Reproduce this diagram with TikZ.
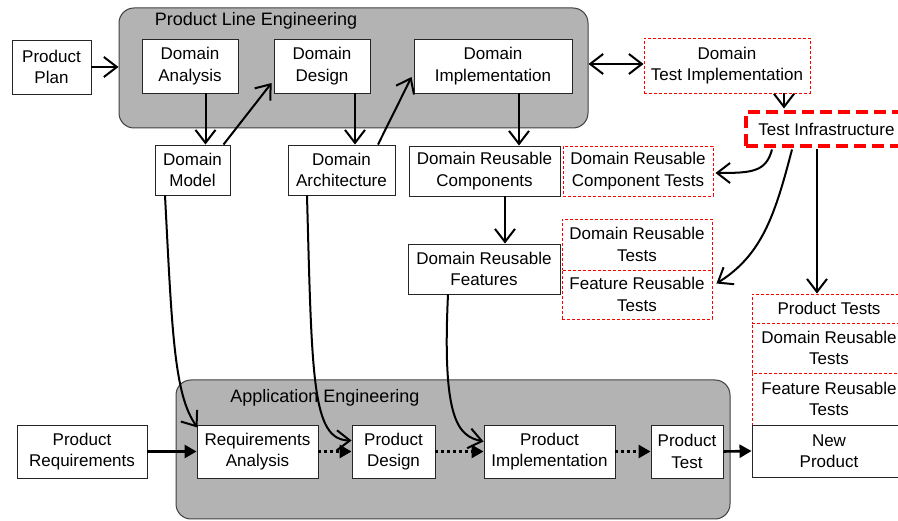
\documentclass[tikz,border=0pt]{standalone}
\usepackage{fontspec}
\setmainfont{Liberation Sans}
\usetikzlibrary{arrows.meta,calc}
\definecolor{pane}{HTML}{B3B3B3}
\begin{document}
\begin{tikzpicture}[x=1pt,y=-1pt,
  every node/.style={font=\fontsize{17}{21.5}\selectfont, inner sep=0pt, align=center},
  container/.style={draw=black!75, line width=1pt, fill=pane, rounded corners=15pt},
  box/.style={draw=black!85, line width=0.9pt, fill=white},
  rbox/.style={draw=red, line width=0.9pt, dash pattern=on 3pt off 2pt, fill=white},
  tbox/.style={draw=red, line width=3.5pt, dash pattern=on 12pt off 6pt, fill=white},
  title/.style={font=\fontsize{18}{21}\selectfont},
  vtip/.tip={Straight Barb[length=13pt,width=20pt,line width=2pt]},
  oarr/.style={line width=2pt, -vtip},
  darr/.style={line width=2pt, vtip-vtip},
  farr/.style={line width=2.6pt, -{Triangle[length=12pt,width=13pt]}},
  dotarr/.style={line width=2.6pt, dash pattern=on 3pt off 3pt, -{Triangle[length=12pt,width=13pt]}}
]
\useasboundingbox (0,0) rectangle (898,521);
\fill[white] (0,0) rectangle (898,521);

% containers
\node[container, minimum width=469pt, minimum height=120pt] (ple) at (353.5,68) {};
\node[container, minimum width=554pt, minimum height=139pt] (ae) at (453,449.5) {};
\node[title] (plet) at (256,21) {Product Line Engineering};
\node[title] (aet) at (325,398) {Application Engineering};

% top row
\node[box, minimum width=79pt, minimum height=54pt] (pp) at (51.5,67) {Product\\Plan};
\node[box, minimum width=96pt, minimum height=54pt] (da) at (190,66) {Domain\\Analysis};
\node[box, minimum width=96pt, minimum height=54pt] (dd) at (322,66) {Domain\\Design};
\node[box, minimum width=158pt, minimum height=54pt] (di) at (493,66) {Domain\\Implementation};
\node[rbox, minimum width=166pt, minimum height=55pt] (dti) at (727,65.5) {Domain\\Test Implementation};
\node[tbox, minimum width=161pt, minimum height=34pt] (ti) at (826.5,129) {Test Infrastructure};

% second row
\node[box, minimum width=75pt, minimum height=50pt] (dm) at (192.5,170) {Domain\\Model};
\node[box, minimum width=107pt, minimum height=50pt] (dar) at (341.5,170) {Domain\\Architecture};
\node[box, minimum width=151pt, minimum height=50pt] (drc) at (484.5,171) {Domain Reusable\\Components};
\node[rbox, minimum width=150pt, minimum height=50pt] (drct) at (638,171) {Domain Reusable\\Component Tests};

% third row
\node[box, minimum width=152pt, minimum height=50pt] (drf) at (484,269) {Domain Reusable\\Features};
\node[rbox, minimum width=150pt, minimum height=51pt] (drt) at (637,244.5) {Domain Reusable\\Tests};
\node[rbox, minimum width=150pt, minimum height=49pt] (frt) at (637,294.5) {Feature Reusable\\Tests};

% right column
\node[rbox, minimum width=154pt, minimum height=29pt] (pt) at (829,308.5) {Product Tests};
\node[rbox, minimum width=154pt, minimum height=50pt] (drt2) at (829,348) {Domain Reusable\\Tests};
\node[rbox, minimum width=154pt, minimum height=52pt] (frt2) at (829,399) {Feature Reusable\\Tests};
\node[box, minimum width=154pt, minimum height=52pt] (np) at (829,451) {New\\Product};

% bottom row
\node[box, minimum width=130pt, minimum height=53pt] (pr) at (82,451.5) {Product\\Requirements};
\node[box, minimum width=121pt, minimum height=53pt] (ra) at (257.5,451.5) {Requirements\\Analysis};
\node[box, minimum width=83pt, minimum height=53pt] (pd) at (393.5,451.5) {Product\\Design};
\node[box, minimum width=131pt, minimum height=53pt] (pi) at (549.5,451.5) {Product\\Implementation};
\node[box, minimum width=72pt, minimum height=53pt] (ptest) at (687,451.5) {Product\\Test};

% connectors, top
\draw[oarr] (pp.east) -- (pp.east -| ple.west);
\draw[oarr] ($(da.south)+(15.5,0)$) -- ($(dm.north)+(13,0)$);
\draw[oarr] ($(dm.north)+(31,0)$) -- ($(dd.west)+(-2,17)$);
\draw[oarr] ($(dd.south)+(33,0)$) -- ($(dar.north)+(13.5,0)$);
\draw[oarr] ($(dar.north)+(36.5,0)$) -- ($(di.west)+(-2,11)$);
\draw[oarr] ($(di.south)+(26,0)$) -- ($(drc.north)+(34.5,0)$);
\draw[oarr] ($(drc.south)+(20.5,0)$) -- ($(drf.north)+(21,0)$);
\coordinate (dtil) at ($(dti.west)+(0,-1.5)$);
\draw[darr] (dtil -| ple.east) -- (dtil);
\draw[oarr] ($(dti.south)+(57,0)$) -- ($(ti.north)+(-42.5,-1.75)$);
\draw[oarr] ($(ti.south)+(-54.5,1.75)$) .. controls (766,172) and (752,173) .. ($(drct.east)+(2,2)$);
\draw[oarr] ($(ti.south)+(-34.5,1.75)$) .. controls (775,215) and (762,255) .. ($(frt.east)+(4,-11)$);
\draw[oarr] ($(ti.south)+(-9.5,1.75)$) -- ($(pt.north)+(-12,0)$);

% connectors into application engineering
\draw[oarr] ($(dm.south)+(-27.5,0)$) .. controls (172,330) and (174,395) .. ($(ra.north west)+(1,3)$);
\draw[oarr] ($(dar.south)+(-34.5,0)$) .. controls (312,380) and (312,440) .. ($(pd.west)+(0,-11)$);
\draw[oarr] ($(drf.south)+(-36,0)$) .. controls (442,420) and (458,436) .. ($(pi.west)+(0,-10)$);

% bottom flow
\draw[farr] (pr.east) -- (ra.west);
\draw[dotarr] (ra.east) -- (pd.west);
\draw[dotarr] (pd.east) -- (pi.west);
\draw[dotarr] (pi.east) -- (ptest.west);
\draw[farr] (ptest.east) -- (np.west);
\end{tikzpicture}
\end{document}
